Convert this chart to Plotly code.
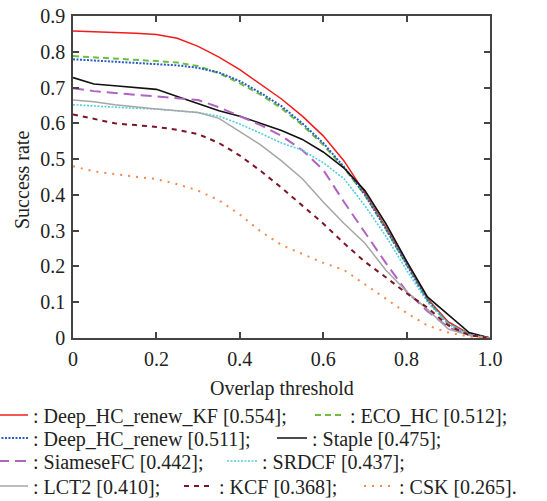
import plotly.graph_objects as go

thresholds = [0.0, 0.05, 0.1, 0.15, 0.2, 0.25, 0.3, 0.35, 0.4, 0.45, 0.5,
              0.55, 0.6, 0.65, 0.7, 0.75, 0.8, 0.85, 0.9, 0.95, 1.0]

deep_hc_renew_kf = [0.858, 0.856, 0.855, 0.852, 0.848, 0.838, 0.815, 0.785, 0.75, 0.71, 0.668,
                    0.62, 0.565, 0.495, 0.405, 0.31, 0.21, 0.11, 0.045, 0.012, 0.0]
eco_hc = [0.788, 0.785, 0.782, 0.778, 0.774, 0.77, 0.76, 0.74, 0.712, 0.68, 0.642,
          0.595, 0.54, 0.475, 0.4, 0.305, 0.205, 0.105, 0.04, 0.01, 0.0]
deep_hc_renew = [0.779, 0.776, 0.772, 0.768, 0.765, 0.762, 0.755, 0.742, 0.718, 0.685, 0.648,
                 0.6, 0.545, 0.478, 0.4, 0.305, 0.205, 0.105, 0.04, 0.01, 0.0]
staple = [0.728, 0.71, 0.705, 0.70, 0.695, 0.675, 0.655, 0.635, 0.62, 0.60, 0.58,
          0.555, 0.52, 0.475, 0.412, 0.32, 0.215, 0.115, 0.065, 0.015, 0.0]
siamesefc = [0.698, 0.69, 0.685, 0.68, 0.676, 0.672, 0.665, 0.645, 0.62, 0.595, 0.565,
             0.525, 0.47, 0.38, 0.295, 0.21, 0.13, 0.075, 0.03, 0.008, 0.0]
srdcf = [0.652, 0.648, 0.645, 0.642, 0.64, 0.636, 0.63, 0.62, 0.598, 0.572, 0.545,
         0.525, 0.49, 0.445, 0.37, 0.285, 0.19, 0.1, 0.04, 0.01, 0.0]
lct2 = [0.665, 0.66, 0.652, 0.645, 0.64, 0.635, 0.63, 0.614, 0.577, 0.54, 0.495,
        0.445, 0.38, 0.32, 0.265, 0.19, 0.13, 0.08, 0.025, 0.008, 0.0]
kcf = [0.625, 0.613, 0.60, 0.595, 0.59, 0.582, 0.57, 0.545, 0.51, 0.467, 0.42,
       0.37, 0.32, 0.265, 0.213, 0.17, 0.125, 0.085, 0.035, 0.008, 0.0]
csk = [0.48, 0.466, 0.458, 0.452, 0.444, 0.43, 0.412, 0.385, 0.345, 0.298, 0.26,
       0.235, 0.21, 0.19, 0.15, 0.11, 0.07, 0.035, 0.015, 0.004, 0.0]

names = [": Deep_HC_renew_KF [0.554];", ": ECO_HC [0.512];",
         ": Deep_HC_renew [0.511];", ": Staple [0.475];",
         ": SiameseFC [0.442];", ": SRDCF [0.437];",
         ": LCT2 [0.410];", ": KCF [0.368];", ": CSK [0.265]."]
series = [deep_hc_renew_kf, eco_hc, deep_hc_renew, staple, siamesefc, srdcf, lct2, kcf, csk]

x_ticks = [0, 0.2, 0.4, 0.6, 0.8, 1.0]
x_ticklabels = ["0", "0.2", "0.4", "0.6", "0.8", "1.0"]
y_ticks = [0, 0.1, 0.2, 0.3, 0.4, 0.5, 0.6, 0.7, 0.8, 0.9]
y_ticklabels = ["0", "0.1", "0.2", "0.3", "0.4", "0.5", "0.6", "0.7", "0.8", "0.9"]

styles = [
    dict(color="#f01c1c", width=1.5, dash="solid"),
    dict(color="#6cbf3c", width=2, dash="6px,4px"),
    dict(color="#2a5cc8", width=2, dash="2px,1.5px"),
    dict(color="#111111", width=1.6, dash="solid"),
    dict(color="#b063c0", width=2, dash="11px,6px"),
    dict(color="#52cddd", width=1.6, dash="2px,1.5px"),
    dict(color="#a6a6a6", width=1.5, dash="solid"),
    dict(color="#7e1424", width=2, dash="5px,5px"),
    dict(color="#f7884a", width=2, dash="2px,6px"),
]
W, H = 547, 501
L, T, R, B = 73, 16, 490, 338
PW, PH = R - L, B - T

# legend entry placement (px: text start x, row centre y)
legend_text_x = [35, 352, 35, 314, 35, 264, 35, 221, 401]
legend_row_y = [417, 417, 440, 440, 463, 463, 488, 488, 488]

font = dict(family="Liberation Serif", size=20, color="#222222")

fig = go.Figure()
legend_layout = {}
for i, (name, vals, st) in enumerate(zip(names, series, styles)):
    lid = "legend" if i == 0 else f"legend{i + 1}"
    fig.add_trace(go.Scatter(x=thresholds, y=vals, mode="lines", name=name,
                             line=st, legend=lid))
    origin = legend_text_x[i] - 42
    yc = legend_row_y[i] - 2
    legend_layout[lid] = dict(xref="paper", yref="container",
                              x=(origin - L) / PW, xanchor="left",
                              y=1 - yc / H, yanchor="middle",
                              font=font, bgcolor="rgba(0,0,0,0)", borderwidth=0,
                              itemwidth=30)

fig.update_layout(
    width=W, height=H,
    margin=dict(l=L, r=W - R, t=T, b=H - B, autoexpand=False),
    paper_bgcolor="white", plot_bgcolor="white",
    font=font,
    showlegend=True,
    **legend_layout,
)
axis_common = dict(showgrid=False, zeroline=False, showline=True, linecolor="#444444",
                   linewidth=1.5, mirror="ticks", ticks="inside", ticklen=6,
                   tickwidth=1.5, tickcolor="#444444", tickfont=font,
                   ticklabeloverflow="allow")
fig.update_xaxes(range=[0, 1], tickvals=x_ticks, ticktext=x_ticklabels,
                 ticklabelstandoff=2, **axis_common)
fig.update_yaxes(range=[0, 0.9], tickvals=y_ticks, ticktext=y_ticklabels,
                 ticklabelstandoff=2, **axis_common)

# axis titles
fig.add_annotation(text="Overlap threshold", xref="paper", yref="paper",
                   x=(281.7 - L) / PW, y=(B - 388) / PH,
                   xanchor="center", yanchor="middle", showarrow=False, font=font)
fig.add_annotation(text="Success rate", xref="paper", yref="paper",
                   x=(22 - L) / PW, y=(B - 180) / PH, textangle=-90,
                   xanchor="center", yanchor="middle", showarrow=False, font=font)

fig.write_html("out.html", config={"displayModeBar": False},
               post_script="document.body.style.margin='0';document.body.style.overflow='hidden';")
